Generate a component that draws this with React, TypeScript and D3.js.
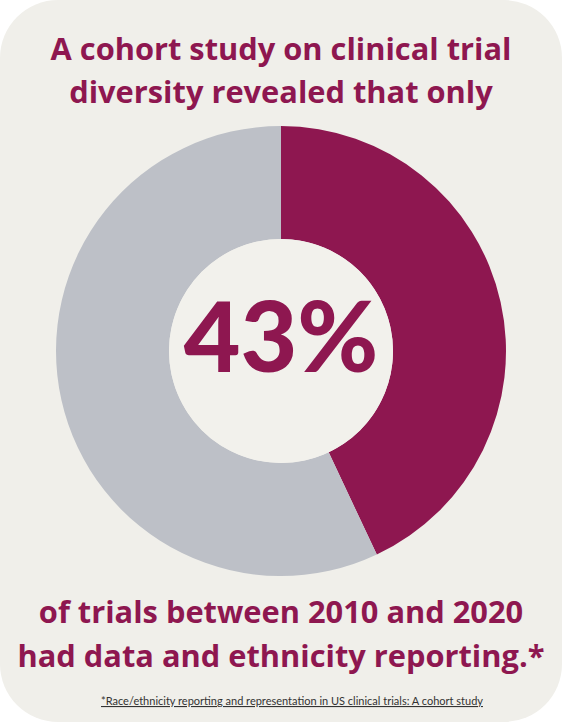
import { useEffect } from "react";
import * as d3 from "d3";

// share of trials reporting race/ethnicity data
const shares = [
  { label: "reported", value: 43, color: "#8e1750" },
  { label: "not reported", value: 57, color: "#bdc0c7" },
];
const titleLines = ["A cohort study on clinical trial", "diversity revealed that only"];
const bottomLines = ["of trials between 2010 and 2020", "had data and ethnicity reporting.*"];
const footnote = "*Race/ethnicity reporting and representation in US clinical trials: A cohort study";
const centerLabel = "43%";

const W = 562, H = 722;
const FONT = "'Open Sans', Lato, sans-serif";
const MAROON = "#8e1750";

export default function App() {
  useEffect(() => {
    document.body.style.margin = "0";
  }, []);

  const cx = 281, cy = 351, R = 225, r0 = 112;
  const arcs = d3.pie<(typeof shares)[0]>().value((d) => d.value).sort(null)(shares);
  const arc = d3.arc<d3.PieArcDatum<(typeof shares)[0]>>().innerRadius(r0).outerRadius(R);

  return (
    <svg width={W} height={H} style={{ display: "block" }}>
      <rect width={W} height={H} fill="#ffffff" />
      <rect width={W} height={H} rx={58} ry={58} fill="#f0efea" />
      {titleLines.map((t, i) => (
        <text key={t} x={cx} y={60 + i * 43} textAnchor="middle" fill={MAROON}
              fontFamily={FONT} fontWeight={700} fontSize={30.8}>{t}</text>
      ))}
      <g transform={`translate(${cx},${cy})`}>
        {arcs.map((a) => (
          <path key={a.data.label} d={arc(a) ?? ""} fill={a.data.color} />
        ))}
        <circle r={r0} fill="#f2f1ec" />
        <text y={21} textAnchor="middle" fill={MAROON}
              fontFamily="Lato, sans-serif" fontWeight={900} fontSize={98}>{centerLabel}</text>
      </g>
      {bottomLines.map((t, i) => (
        <text key={t} x={cx} y={623 + i * 44} textAnchor="middle" fill={MAROON}
              fontFamily={FONT} fontWeight={700} fontSize={30.8}>{t}</text>
      ))}
      <text x={292} y={705} textAnchor="middle" fill="#333333" fontFamily="Lato, sans-serif"
            fontSize={11} textDecoration="underline">{footnote}</text>
    </svg>
  );
}
